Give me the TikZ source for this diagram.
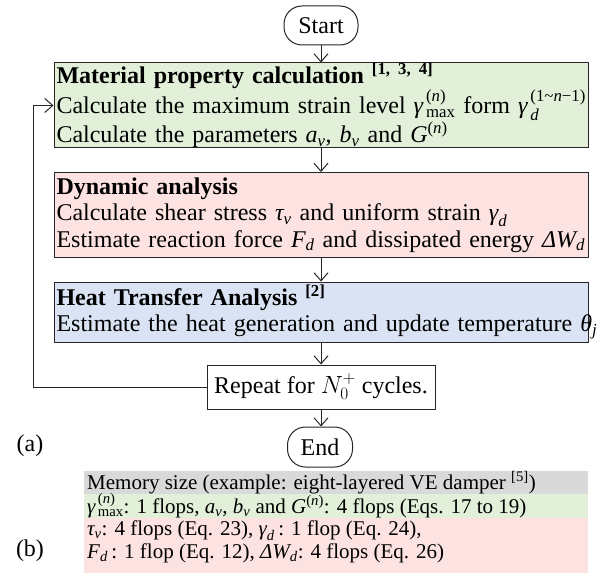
\documentclass[tikz,border=0pt]{standalone}
\usepackage{amsmath}
\usepackage{fontspec}
\setmainfont{Liberation Serif}
\usetikzlibrary{arrows.meta}
\definecolor{boxgreen}{HTML}{E2F0D9}
\definecolor{boxpink}{HTML}{FDE2E2}
\definecolor{boxblue}{HTML}{DAE3F3}
\definecolor{boxgray}{HTML}{D9D9D9}
\definecolor{edge}{HTML}{262626}
\newcommand{\mi}[1]{\text{\itshape #1}}
\newcommand{\supn}{\text{(\itshape n\/\upshape)}}
\newcommand{\gmax}{$\mi{γ}^{\,\supn}_{\,\text{max}}$}
\newcommand{\oneline}[1]{\mbox{#1}}
\begin{document}
\begin{tikzpicture}[x=1pt,y=1pt,
  mainfont/.style={font=\fontsize{24}{26.5}\selectfont},
  tabfont/.style={font=\fontsize{21}{24}\selectfont},
  flowbox/.style={draw=edge, line width=1pt, mainfont, text width=529pt,
    inner xsep=2.5pt, inner ysep=0pt, align=left, minimum width=534pt},
  termbox/.style={draw=edge, line width=1pt, rounded corners=18pt, mainfont,
    inner sep=0pt, fill=white},
  arr/.style={draw=edge, line width=1pt, -{Straight Barb[length=8pt,width=14pt]}},
  band/.style={inner sep=0pt, minimum width=504pt, anchor=north west, draw=none},
  tabtext/.style={tabfont, anchor=base west, inner sep=0pt},
  lbl/.style={mainfont, inner sep=0pt}
]
\useasboundingbox (0,0) rectangle (604,-572);

\node[termbox, minimum width=74pt, minimum height=39pt] (start) at (321,-25.5) {Start};

\node[flowbox, fill=boxgreen, minimum height=85pt] (mat) at (321,-105.5)
  {\oneline{\textbf{Material property calculation \textsuperscript{[1, 3, 4]}}}\\
   \oneline{Calculate the maximum strain level \gmax{} form
   $\mi{γ}^{\,\text{(1\textasciitilde\itshape n\/\upshape−1)}}_{\,\mi{d}}$}\\
   \oneline{Calculate the parameters $\mi{a}_{\mi{v}}$, $\mi{b}_{\mi{v}}$ and $\mi{G}^{\supn}$}};

\node[flowbox, fill=boxpink, minimum height=85pt] (dyn) at (321,-215)
  {\oneline{\textbf{Dynamic analysis}}\\
   \oneline{Calculate shear stress $\mi{τ}_{\mi{v}}$ and uniform strain $\mi{γ}_{\mi{d}}$}\\
   \oneline{Estimate reaction force $\mi{F}_{\mi{d}}$ and dissipated energy $\mi{ΔW}_{\mi{d}}$}};

\node[flowbox, fill=boxblue, minimum height=60pt] (heat) at (321,-312)
  {\oneline{\textbf{Heat Transfer Analysis \textsuperscript{[2]}}}\\
   \oneline{Estimate the heat generation and update temperature $\mi{θ}_{\mi{j}}$}};

\node[draw=edge, line width=1pt, mainfont, fill=white, inner sep=0pt,
  minimum width=228pt, minimum height=44pt] (rep) at (321,-387)
  {Repeat for $N_0^+$ cycles.};

\node[termbox, minimum width=65pt, minimum height=40pt] (end) at (320,-447) {End};

\draw[arr] (start.south) -- (mat.north);
\draw[arr] (mat.south) -- (dyn.north);
\draw[arr] (dyn.south) -- (heat.north);
\draw[arr] (heat.south) -- (rep.north);
\draw[arr] (rep.south) -- (rep.south |- end.north);
\coordinate (lp) at (33,-387);
\draw[arr] (rep.west) -- (lp) |- (mat.west);

\node[lbl] (la) at (30,-446) {(a)};
\node[lbl] (lb) at (30,-551) {(b)};

\node[band, fill=boxgray, minimum height=23pt] (rowgray) at (84,-471) {};
\node[band, fill=boxgreen, minimum height=24pt] (rowgreen) at (84,-494) {};
\node[band, fill=boxpink, minimum height=60pt] (rowpink) at (84,-518) {};

\node[tabtext] (t1) at (87,-489.5) {Memory size (example: eight-layered VE damper \textsuperscript{[5]})};
\node[tabtext] (t2) at (87,-513.5) {\gmax: 1 flops, $\mi{a}_{\mi{v}}$, $\mi{b}_{\mi{v}}$ and $\mi{G}^{\supn}$: 4 flops (Eqs. 17 to 19)};
\node[tabtext] (t3) at (87,-535.5) {$\mi{τ}_{\mi{v}}$: 4 flops (Eq. 23), $\mi{γ}_{\mi{d}}$\,: 1 flop (Eq. 24),};
\node[tabtext] (t4) at (87,-558) {$\mi{F}_{\mi{d}}$\,: 1 flop (Eq. 12), $\mi{ΔW}_{\mi{d}}$: 4 flops (Eq. 26)};
\end{tikzpicture}
\end{document}
